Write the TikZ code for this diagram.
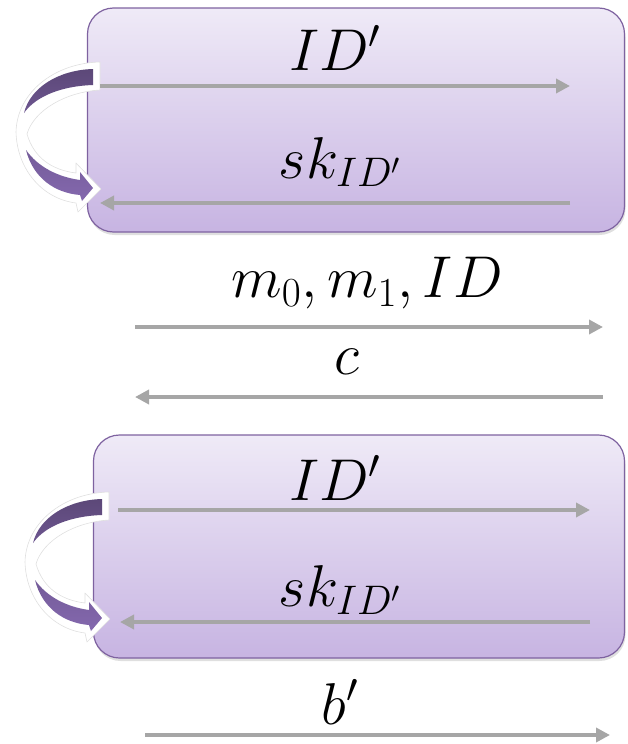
\RequirePackage{fix-cm}
\documentclass[tikz,border=0pt]{standalone}
\usetikzlibrary{arrows.meta,shadows}
\definecolor{boxtop}{HTML}{EFEAF7}
\definecolor{boxbot}{HTML}{C7B4E2}
\definecolor{boxedge}{HTML}{7E62A0}
\definecolor{arrgray}{HTML}{A6A6A6}
\definecolor{curvetop}{HTML}{5C4878}
\definecolor{curvemid}{HTML}{6D5690}
\definecolor{curvebot}{HTML}{8468AE}
\tikzset{
  panel/.style={draw=boxedge, line width=1.2pt, rounded corners=26pt,
    top color=boxtop, bottom color=boxbot, inner sep=0pt,
    drop shadow={shadow xshift=1pt, shadow yshift=-3pt, opacity=0.25}},
  msg/.style={draw=arrgray, line width=4pt, -{Triangle[length=14pt,width=14pt]}},
  lbl/.style={font=\fontsize{59}{64}\selectfont, inner sep=0pt},
  curvearrow/.pic={
    % white silhouette
    \path[fill=white, draw=black!12, line width=0.6pt, line join=round]
      (100,62) -- (100,90)
      .. controls (66,92) and (34,110) .. (27,134)
      .. controls (34,158) and (52,170) .. (76,173)
      -- (76,163) -- (101,189) -- (78,212) -- (76,203)
      .. controls (43,199) and (17,170) .. (16,132)
      .. controls (17,92) and (55,63) .. (100,62) -- cycle;
    % upper crescent
    \path[top color=curvetop, bottom color=curvemid]
      (93,69) -- (93,85)
      .. controls (62,86) and (36,96) .. (24,113)
      .. controls (30,88) and (58,70) .. (93,69) -- cycle;
    % lower shaft and head
    \path[top color=curvemid!70!curvebot, bottom color=curvebot]
      (26,150)
      .. controls (38,167) and (58,177) .. (80,180)
      -- (80,172) -- (93,188) -- (82,201) -- (80,195)
      .. controls (55,193) and (33,178) .. (26,150) -- cycle;
  }
}
\begin{document}
\begin{tikzpicture}[x=1pt,y=-1pt]
\useasboundingbox (0,0) rectangle (627,744);
% panels
\node[panel, minimum width=537pt, minimum height=224pt] (p1) at (356,120) {};
\node[panel, minimum width=531pt, minimum height=223pt] (p2) at (359,546.5) {};
% curved arrows
\pic at (0,0) {curvearrow};
\pic at (9,430) {curvearrow};
% labels
\node[lbl] (t1) at (335,48) {$ID'$};
\node[lbl] (t2) at (340,162) {$sk_{ID'}$};
\node[lbl] (t3) at (367,283) {$m_0,m_1,ID$};
\node[lbl] (t4) at (347,362) {$c$};
\node[lbl] (t5) at (335,478) {$ID'$};
\node[lbl] (t6) at (340,590) {$sk_{ID'}$};
\node[lbl] (t7) at (340,702) {$b'$};
% arrow end points
\coordinate (a1s) at (100,86);  \coordinate (a1e) at (570,86);
\coordinate (a2s) at (570,203); \coordinate (a2e) at (100,203);
\coordinate (a3s) at (135,327); \coordinate (a3e) at (603,327);
\coordinate (a4s) at (603,397); \coordinate (a4e) at (135,397);
\coordinate (a5s) at (118,510); \coordinate (a5e) at (590,510);
\coordinate (a6s) at (590,622); \coordinate (a6e) at (120,622);
\coordinate (a7s) at (145,735); \coordinate (a7e) at (610,735);
\draw[msg] (a1s) -- (a1e);
\draw[msg] (a2s) -- (a2e);
\draw[msg] (a3s) -- (a3e);
\draw[msg] (a4s) -- (a4e);
\draw[msg] (a5s) -- (a5e);
\draw[msg] (a6s) -- (a6e);
\draw[msg] (a7s) -- (a7e);
\end{tikzpicture}
\end{document}
